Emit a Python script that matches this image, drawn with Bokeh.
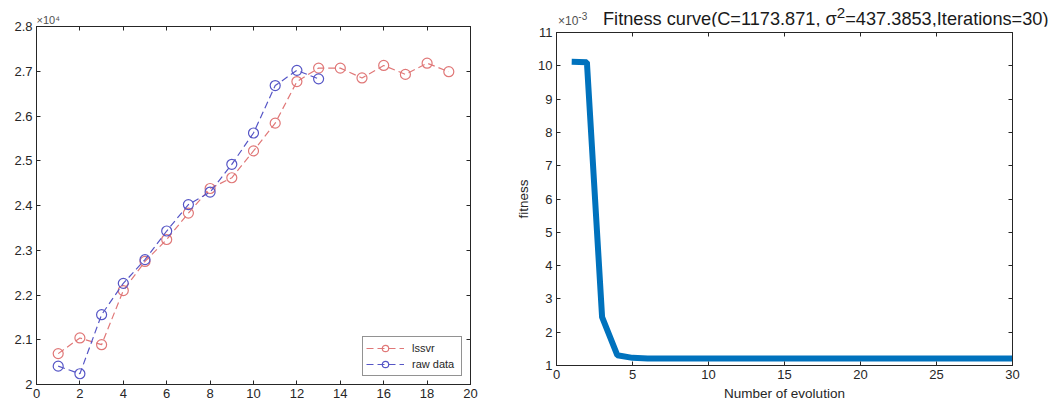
from bokeh.plotting import figure
from bokeh.layouts import row, column
from bokeh.models import (Range1d, FixedTicker, LinearAxis, CustomJSTickFormatter,
                          Legend, LegendItem, Title, Div)
from bokeh.embed import file_html
from bokeh.resources import INLINE

# ---------------- data ----------------
x_pred = [1, 2, 3, 4, 5, 6, 7, 8, 9, 10, 11, 12, 13, 14, 15, 16, 17, 18, 19]
lssvr = [20690, 21040, 20890, 22100, 22750, 23240, 23830, 24380, 24620, 25220,
         25840, 26770, 27070, 27070, 26850, 27130, 26930, 27180, 26990]
x_raw = [1, 2, 3, 4, 5, 6, 7, 8, 9, 10, 11, 12, 13]
raw = [20410, 20240, 21560, 22260, 22790, 23430, 24020, 24300, 24920, 25620,
       26680, 27020, 26830]

gen = [1, 2, 3, 4, 5, 6, 7, 8, 9, 10, 11, 12, 13, 14, 15,
       16, 17, 18, 19, 20, 21, 22, 23, 24, 25, 26, 27, 28, 29, 30]
fitness = [0.01012, 0.01011, 0.00245, 0.00131, 0.00123, 0.00121, 0.00121, 0.00121,
           0.00121, 0.00121, 0.00121, 0.00121, 0.00121, 0.00121, 0.00121, 0.00121,
           0.00121, 0.00121, 0.00121, 0.00121, 0.00121, 0.00121, 0.00121, 0.00121,
           0.00121, 0.00121, 0.00121, 0.00121, 0.00121, 0.00121]

left_xticks = [0, 2, 4, 6, 8, 10, 12, 14, 16, 18, 20]
left_yticks = [20000, 21000, 22000, 23000, 24000, 25000, 26000, 27000, 28000]
right_xticks = [0, 5, 10, 15, 20, 25, 30]
right_yticks = [0.001, 0.002, 0.003, 0.004, 0.005, 0.006, 0.007, 0.008, 0.009, 0.010, 0.011]

legend_labels = ["lssvr", "raw data"]
left_exponent = "\u00d710\u2074"
title_main = "Fitness curve(C=1173.871, \u03c3<sup>2</sup>=437.3853,Iterations=30)"
right_exponent = "\u00d710<sup>-3</sup>"

FONT = "Liberation Sans"
TXT = "#262626"
RED = "#e07878"
BLUE = "#5656c6"
MBLUE = "#0072BD"
TICK_FS = "13px"

EMPTY = CustomJSTickFormatter(code="return '';")


def style_axis(ax, show_labels=True):
    ax.major_tick_in = 4
    ax.major_tick_out = 0
    ax.minor_tick_line_color = None
    ax.axis_line_color = TXT
    ax.major_tick_line_color = TXT
    ax.major_label_text_font = FONT
    ax.major_label_text_color = TXT
    ax.major_label_text_font_size = TICK_FS
    ax.major_label_standoff = 4 if show_labels else 0
    if not show_labels:
        ax.formatter = EMPTY


# ---------------- left panel ----------------
p1 = figure(width=500, height=410, x_range=Range1d(0, 20), y_range=Range1d(20000, 28000),
            output_backend="svg", toolbar_location=None,
            min_border_left=36, min_border_right=30, min_border_top=26, min_border_bottom=26)
p1.grid.visible = False
p1.outline_line_color = TXT
p1.xaxis.ticker = FixedTicker(ticks=left_xticks)
p1.yaxis.ticker = FixedTicker(ticks=left_yticks)
p1.yaxis.formatter = CustomJSTickFormatter(code="return String(Math.round(tick/1000)/10);")
style_axis(p1.xaxis[0])
style_axis(p1.yaxis[0])
ax_top = LinearAxis(ticker=FixedTicker(ticks=left_xticks))
style_axis(ax_top, False)
p1.add_layout(ax_top, "above")
ax_right = LinearAxis(ticker=FixedTicker(ticks=left_yticks))
style_axis(ax_right, False)
p1.add_layout(ax_right, "right")

r1l = p1.line(x_pred, lssvr, line_color=RED, line_dash="7 4", line_width=1.2)
r1s = p1.scatter(x_pred, lssvr, marker="circle", size=10, fill_color=None,
                 line_color=RED, line_width=1.2)
r2l = p1.line(x_raw, raw, line_color=BLUE, line_dash="7 4", line_width=1.2)
r2s = p1.scatter(x_raw, raw, marker="circle", size=10, fill_color=None,
                 line_color=BLUE, line_width=1.2)

legend = Legend(items=[LegendItem(label=legend_labels[0], renderers=[r1l, r1s]),
                       LegendItem(label=legend_labels[1], renderers=[r2l, r2s])],
                location="bottom_right", margin=8, padding=3, spacing=0,
                glyph_width=38, glyph_height=16, label_standoff=8,
                label_text_font=FONT, label_text_font_size="11px",
                label_text_color=TXT, label_height=16, label_width=46,
                border_line_color=TXT, border_line_width=1,
                background_fill_color="white")
p1.add_layout(legend)

p1.title = Title(text=left_exponent, align="left", offset=0, standoff=2,
                 text_font=FONT, text_font_size="11px", text_font_style="normal",
                 text_color="#505050")

# ---------------- right panel ----------------
header_html = (
    '<div style="position:relative;width:552px;height:26px;overflow:visible;'
    'font-family:\'Liberation Sans\',Arial,sans-serif;line-height:1;">'
    '<span style="position:absolute;left:58px;top:12px;font-size:12px;color:#505050;'
    'white-space:nowrap;">' + right_exponent + '</span>'
    '<span style="position:absolute;left:103px;top:5px;font-size:18.2px;color:#1a1a1a;'
    'white-space:nowrap;">' + title_main + '</span>'
    '</div>'
)
header = Div(text=header_html, width=552, height=26, margin=0)

p2 = figure(width=552, height=384, x_range=Range1d(0, 30), y_range=Range1d(0.001, 0.011),
            output_backend="svg", toolbar_location=None,
            min_border_left=56, min_border_right=40, min_border_top=6, min_border_bottom=45)
p2.grid.visible = False
p2.outline_line_color = TXT
p2.xaxis.ticker = FixedTicker(ticks=right_xticks)
p2.yaxis.ticker = FixedTicker(ticks=right_yticks)
p2.yaxis.formatter = CustomJSTickFormatter(code="return String(Math.round(tick*1000));")
style_axis(p2.xaxis[0])
style_axis(p2.yaxis[0])
for ax in (p2.xaxis[0], p2.yaxis[0]):
    ax.axis_label_text_font = FONT
    ax.axis_label_text_font_style = "normal"
    ax.axis_label_text_color = TXT
    ax.axis_label_text_font_size = "13.5px"
    ax.axis_label_standoff = 4
p2.xaxis.axis_label = "Number of evolution"
p2.yaxis.axis_label = "fitness"
ax_top2 = LinearAxis(ticker=FixedTicker(ticks=right_xticks))
style_axis(ax_top2, False)
p2.add_layout(ax_top2, "above")
ax_right2 = LinearAxis(ticker=FixedTicker(ticks=right_yticks))
style_axis(ax_right2, False)
p2.add_layout(ax_right2, "right")

p2.line(gen, fitness, line_color=MBLUE, line_width=6)

layout = row(column(p1), column(header, p2))
open("out.html", "w").write(file_html(layout, INLINE))
